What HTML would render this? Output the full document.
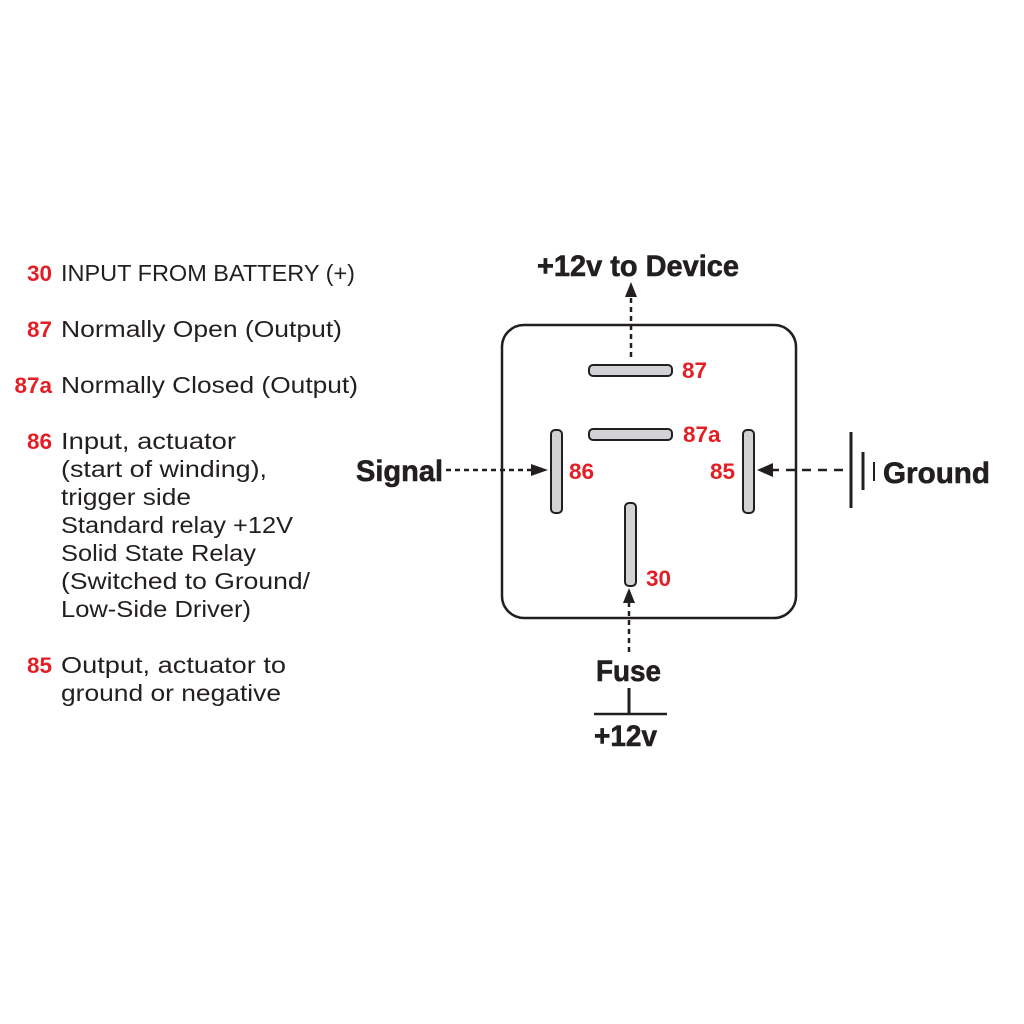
<!DOCTYPE html>
<html><head><meta charset="utf-8"><style>
html,body{margin:0;padding:0;background:#fff;width:1024px;height:1024px;overflow:hidden}
text{font-family:"Liberation Sans",sans-serif}
.r{fill:#e31e24;font-weight:bold;font-size:22.5px}
.d{fill:#231f20;font-size:23.5px}
.b{fill:#231f20;font-weight:bold;stroke:#231f20;stroke-width:0.6}
.pin{fill:#d1d3d4;stroke:#231f20;stroke-width:2}
</style></head><body>
<svg width="1024" height="1024" viewBox="0 0 1024 1024" xmlns="http://www.w3.org/2000/svg">
<g text-anchor="end">
<text x="52" y="281" class="r">30</text>
<text x="52" y="337" class="r">87</text>
<text x="52" y="393" class="r">87a</text>
<text x="52" y="449" class="r">86</text>
<text x="52" y="673" class="r">85</text>
</g>
<g>
<text x="61" y="281" class="d" textLength="294" lengthAdjust="spacingAndGlyphs">INPUT FROM BATTERY (+)</text>
<text x="61" y="337" class="d" textLength="281" lengthAdjust="spacingAndGlyphs">Normally Open (Output)</text>
<text x="61" y="393" class="d" textLength="297" lengthAdjust="spacingAndGlyphs">Normally Closed (Output)</text>
<text x="61" y="449" class="d" textLength="175" lengthAdjust="spacingAndGlyphs">Input, actuator</text>
<text x="61" y="477" class="d" textLength="206" lengthAdjust="spacingAndGlyphs">(start of winding),</text>
<text x="61" y="505" class="d" textLength="130" lengthAdjust="spacingAndGlyphs">trigger side</text>
<text x="61" y="533" class="d" textLength="232" lengthAdjust="spacingAndGlyphs">Standard relay +12V</text>
<text x="61" y="561" class="d" textLength="195" lengthAdjust="spacingAndGlyphs">Solid State Relay</text>
<text x="61" y="589" class="d" textLength="249" lengthAdjust="spacingAndGlyphs">(Switched to Ground/</text>
<text x="61" y="617" class="d" textLength="190" lengthAdjust="spacingAndGlyphs">Low-Side Driver)</text>
<text x="61" y="673" class="d" textLength="225" lengthAdjust="spacingAndGlyphs">Output, actuator to</text>
<text x="61" y="701" class="d" textLength="220" lengthAdjust="spacingAndGlyphs">ground or negative</text>
</g>
<rect x="502" y="325" width="294" height="293" rx="22" fill="none" stroke="#231f20" stroke-width="2.5"/>
<rect class="pin" x="589" y="365" width="83" height="11" rx="4"/>
<rect class="pin" x="589" y="429" width="83" height="11" rx="4"/>
<rect class="pin" x="551" y="430" width="11" height="83" rx="4"/>
<rect class="pin" x="743" y="430" width="11" height="83" rx="4"/>
<rect class="pin" x="625" y="503" width="11" height="83" rx="4"/>
<text x="682" y="378" class="r">87</text>
<text x="683" y="442" class="r">87a</text>
<text x="569" y="479" class="r">86</text>
<text x="710" y="479" class="r">85</text>
<text x="646" y="586" class="r">30</text>
<line x1="631" y1="357" x2="631" y2="295" stroke="#231f20" stroke-width="2.5" stroke-dasharray="5,4"/>
<polygon points="631,282 625,297 637,297" fill="#231f20"/>
<text x="537" y="276" class="b" font-size="30" textLength="202" lengthAdjust="spacingAndGlyphs">+12v to Device</text>
<text x="356" y="481" class="b" font-size="30" textLength="87" lengthAdjust="spacingAndGlyphs">Signal</text>
<line x1="446" y1="470" x2="533" y2="470" stroke="#231f20" stroke-width="2.5" stroke-dasharray="5,4"/>
<polygon points="548,470 531,464 531,476" fill="#231f20"/>
<line x1="770" y1="470" x2="846" y2="470" stroke="#231f20" stroke-width="2.5" stroke-dasharray="9,7"/>
<polygon points="757,470 773,463 773,477" fill="#231f20"/>
<line x1="851" y1="432" x2="851" y2="508" stroke="#231f20" stroke-width="3"/>
<line x1="863" y1="452" x2="863" y2="490" stroke="#231f20" stroke-width="3"/>
<line x1="874" y1="462" x2="874" y2="481" stroke="#231f20" stroke-width="2"/>
<text x="883" y="483" class="b" font-size="30" textLength="107" lengthAdjust="spacingAndGlyphs">Ground</text>
<line x1="629" y1="602" x2="629" y2="652" stroke="#231f20" stroke-width="2.5" stroke-dasharray="5,4"/>
<polygon points="629,588 623,603 635,603" fill="#231f20"/>
<text x="596" y="681" class="b" font-size="30" textLength="65" lengthAdjust="spacingAndGlyphs">Fuse</text>
<line x1="629" y1="688" x2="629" y2="714" stroke="#231f20" stroke-width="3"/>
<line x1="594" y1="714" x2="667" y2="714" stroke="#231f20" stroke-width="2.5"/>
<text x="594" y="746" class="b" font-size="30" textLength="63" lengthAdjust="spacingAndGlyphs">+12v</text>
</svg>
</body></html>
